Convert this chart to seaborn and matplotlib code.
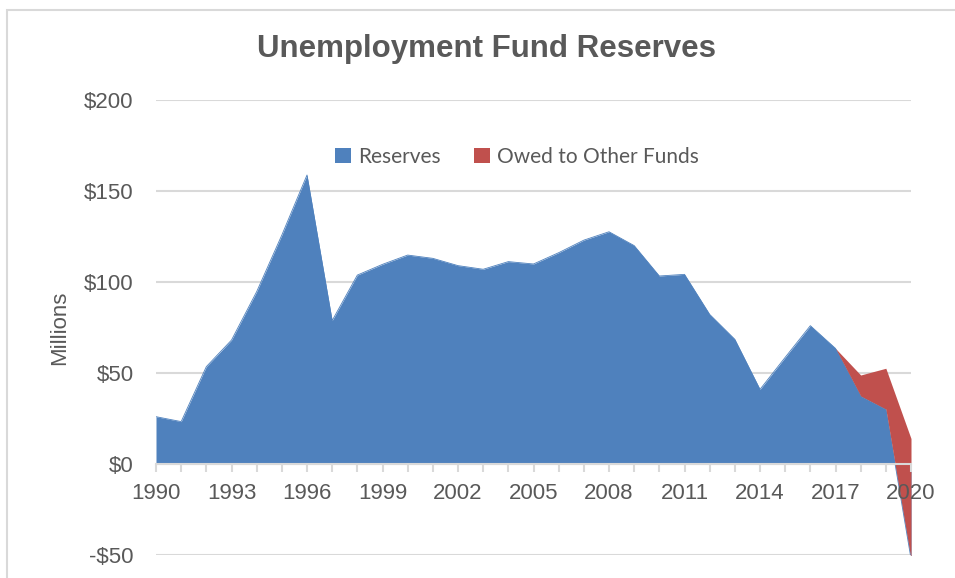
import numpy as np
import pandas as pd
import matplotlib
matplotlib.use("Agg")
import matplotlib.pyplot as plt
import seaborn as sns
from matplotlib.patches import Patch, Rectangle
from matplotlib.ticker import FixedLocator, FuncFormatter

years = list(range(1990, 2021))
reserves = [26, 23.3, 53.5, 68.1, 94.7, 125.8, 158.8, 78.8, 103.8, 109.7,
            114.8, 113, 109, 107, 111.2, 109.9, 116.1, 123, 127.6, 120,
            103.3, 104.2, 82.2, 68.5, 41, 58.6, 76, 63.5, 37.4, 30.2, -52]
owed = [0] * 27 + [0, 11.5, 22.4, 66]
series_names = ["Reserves", "Owed to Other Funds"]
y_ticks = [-50, 0, 50, 100, 150, 200]
x_label_years = list(range(1990, 2021, 3))

df = pd.DataFrame({"year": years, "reserves": reserves, "owed": owed})
df["total"] = df["reserves"] + df["owed"]

sns.set_theme(style="white")
plt.rcParams["font.family"] = ["Liberation Sans", "DejaVu Sans"]

BLUE = "#4F81BD"
RED = "#C0504D"
GRID = "#d9d9d9"
TXT = "#595959"

fig = plt.figure(figsize=(9.55, 5.78), dpi=100)
ax = fig.add_axes([156 / 955, 1 - 555 / 578, (911 - 156) / 955, (555 - 100) / 578])

sns.lineplot(data=df, x="year", y="reserves", ax=ax, color=BLUE, lw=0.6, legend=False)
ax.lines[-1].set_zorder(1.9)
ax.fill_between(df["year"], 0, df["reserves"], color=BLUE, lw=0, zorder=2)
ax.fill_between(df["year"], df["reserves"], df["total"], color=RED, lw=0, zorder=3)

ax.set_xlim(1990, 2020)
ax.set_ylim(-50, 200)
ax.yaxis.set_major_locator(FixedLocator(y_ticks))
ax.yaxis.set_major_formatter(FuncFormatter(lambda v, p: f"${int(v)}" if v >= 0 else f"-${int(-v)}"))
ax.grid(axis="y", color=GRID, lw=1.5, zorder=0)
ax.grid(axis="x", visible=False)
for s in ["top", "right", "left"]:
    ax.spines[s].set_visible(False)
ax.spines["bottom"].set_position(("data", 0))
ax.spines["bottom"].set_color(GRID)
ax.spines["bottom"].set_linewidth(1.5)
ax.spines["bottom"].set_zorder(4)

ax.xaxis.set_major_locator(FixedLocator(x_label_years))
ax.xaxis.set_minor_locator(FixedLocator(years))
ax.tick_params(axis="x", which="both", bottom=True, length=5.5, width=1.5, color=GRID,
               direction="out")
ax.tick_params(axis="x", which="major", labelsize=16, labelcolor=TXT, pad=8)
ax.tick_params(axis="y", length=0, labelsize=16, labelcolor=TXT, pad=16)
ax.xaxis.set_zorder(5)
ax.set_xlabel("")
ax.set_ylabel("Millions", fontsize=16, color=TXT, labelpad=10)

fig.text(486 / 955, 1 - 49 / 578, "Unemployment Fund Reserves", ha="center", va="center",
         fontsize=22.5, fontweight="bold", color=TXT)

handles = [Patch(facecolor=BLUE, edgecolor="none"), Patch(facecolor=RED, edgecolor="none")]
fig.legend(handles, series_names, loc="center", bbox_to_anchor=(517 / 955, 1 - 157 / 578),
           ncol=2, frameon=False, handlelength=0.75, handleheight=0.75, handletextpad=0.35,
           columnspacing=1.6, prop={"family": ["Lato", "DejaVu Sans"], "size": 15},
           labelcolor=TXT)

fig.patches.append(Rectangle((7 / 955, -0.1), 2, 1 - 10 / 578 + 0.1, transform=fig.transFigure,
                             fill=False, edgecolor=GRID, lw=1.5))

fig.savefig("out.png", dpi=100)
